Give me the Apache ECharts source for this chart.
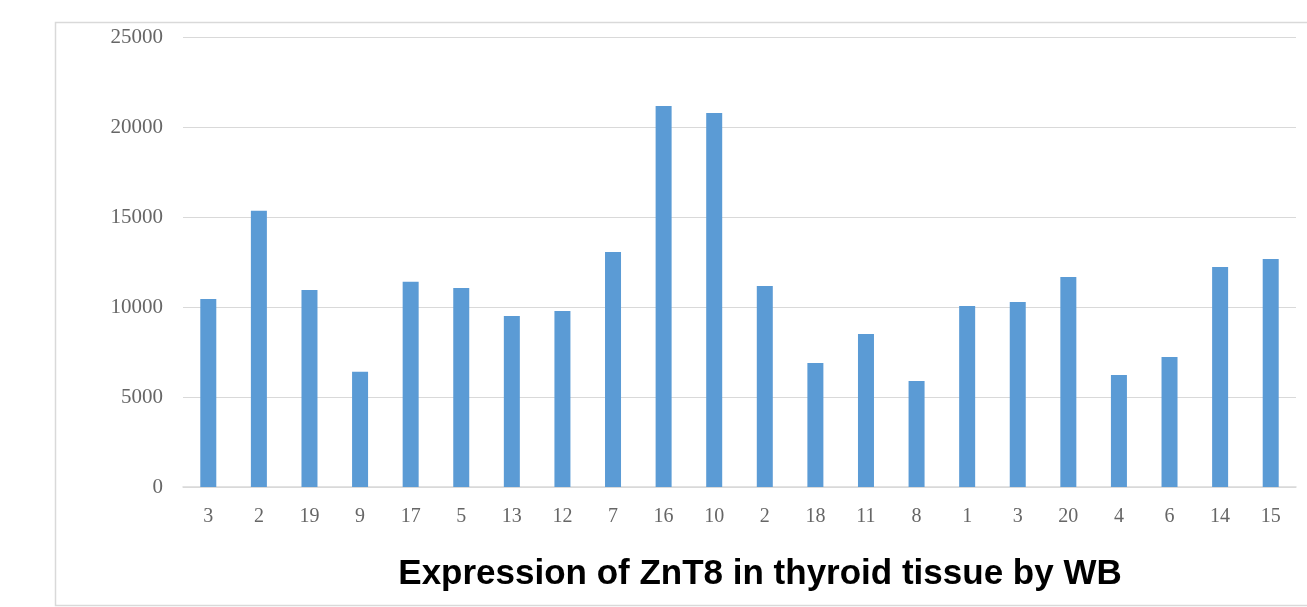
<!DOCTYPE html>
<html>
<head>
<meta charset="utf-8">
<script src="https://cdn.jsdelivr.net/npm/echarts@6/dist/echarts.min.js"></script>
<style>
  html, body { margin: 0; padding: 0; background: #fff; }
  #main { width: 1307px; height: 607px; }
</style>
</head>
<body>
<div id="main"></div>
<script>
// 样本编号（横轴）
var categories = ['3', '2', '19', '9', '17', '5', '13', '12', '7', '16', '10',
  '2', '18', '11', '8', '1', '3', '20', '4', '6', '14', '15'];
// WB 灰度值
var values = [10450, 15350, 10950, 6400, 11400, 11050, 9500, 9780, 13060, 21170, 20780,
  11170, 6890, 8500, 5890, 10060, 10280, 11670, 6220, 7220, 12220, 12670];
var yTicks = [0, 5000, 10000, 15000, 20000, 25000];

var chart = echarts.init(document.getElementById('main'));
var option = {
  backgroundColor: '#ffffff',
  animation: false,
  title: {
    text: 'Expression of ZnT8 in thyroid tissue by WB',
    left: 755,
    textAlign: 'center',
    top: 552,
    textStyle: {
      fontFamily: '"Liberation Sans", Arial, sans-serif',
      fontWeight: 'bold',
      fontSize: 35,
      color: '#000000'
    }
  },
  graphic: [{
    type: 'rect',
    shape: { x: 55.5, y: 22.5, width: 1300, height: 583 },
    style: { fill: 'none', stroke: '#d9d9d9', lineWidth: 1.5 },
    silent: true
  }],
  grid: {
    left: 183,
    right: 11,
    top: 37,
    bottom: 120
  },
  xAxis: {
    type: 'category',
    data: categories,
    axisLine: { lineStyle: { color: '#d9d9d9', width: 1.5 } },
    axisTick: { show: false },
    axisLabel: {
      interval: 0,
      margin: 20,
      fontFamily: '"Liberation Serif", "Times New Roman", serif',
      fontSize: 20,
      color: '#666666'
    }
  },
  yAxis: {
    type: 'value',
    min: yTicks[0],
    max: yTicks[yTicks.length - 1],
    interval: 5000,
    axisLine: { show: false },
    axisTick: { show: false },
    splitLine: { lineStyle: { color: '#d9d9d9', width: 1.2 } },
    axisLabel: {
      margin: 20,
      formatter: function (v) { return String(v); },
      fontFamily: '"Liberation Serif", "Times New Roman", serif',
      fontSize: 21,
      color: '#666666'
    }
  },
  series: [{
    type: 'bar',
    data: values,
    barWidth: 16,
    itemStyle: { color: '#5b9bd5' }
  }]
};
chart.setOption(option);
</script>
</body>
</html>
